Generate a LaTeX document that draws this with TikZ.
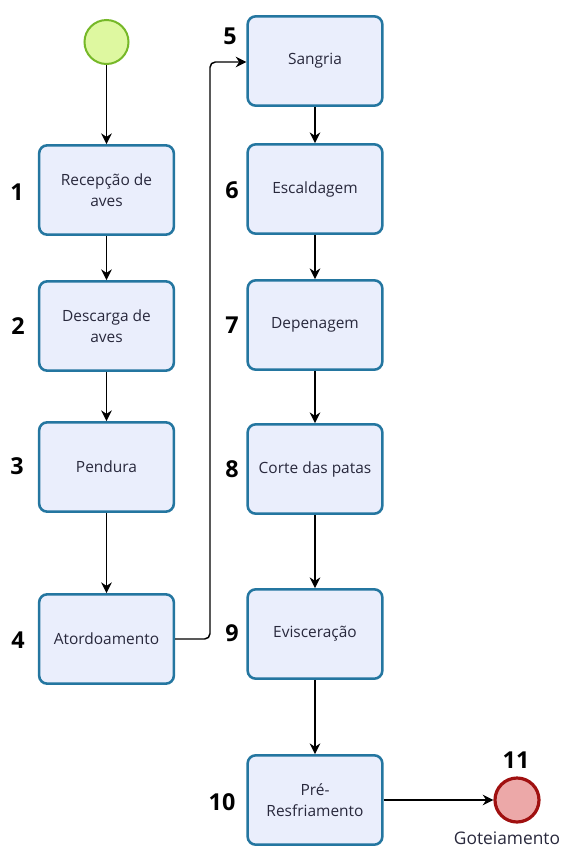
\documentclass[tikz,border=0pt]{standalone}
\usepackage{fontspec}
\setmainfont{Open Sans}
\usetikzlibrary{arrows.meta}
\definecolor{boxfill}{RGB}{234,238,252}
\definecolor{boxline}{RGB}{36,118,160}
\definecolor{startfill}{RGB}{222,248,160}
\definecolor{startline}{RGB}{118,184,40}
\definecolor{endfill}{RGB}{236,168,168}
\definecolor{endline}{RGB}{160,16,16}
\definecolor{txt}{RGB}{40,40,60}
\tikzset{
  task/.style={draw=boxline, fill=boxfill, line width=1.9pt, rounded corners=6pt,
    minimum width=101pt, minimum height=67pt, align=center, text=txt,
    font=\fontsize{11.6}{15.5}\selectfont, inner sep=2pt},
  startev/.style={circle, draw=startline, fill=startfill, line width=1.5pt, minimum size=33pt, inner sep=0pt},
  endev/.style={circle, draw=endline, fill=endfill, line width=2.4pt, minimum size=33pt, inner sep=0pt},
  stepnum/.style={font=\fontsize{17.5}{17.5}\selectfont\bfseries, text=black},
  flow/.style={draw=black, line width=1.1pt, -{Stealth[length=8pt,width=8pt]}},
  evlabel/.style={font=\fontsize{13}{14}\selectfont, text=txt, anchor=north, inner sep=0pt}
}
\begin{document}
\begin{tikzpicture}[x=0.75pt, y=-0.75pt]
\useasboundingbox (0,0) rectangle (564,854);
% events
\node[startev] (start) at (106.5,42) {};
\node[endev] (end) at (517,800) {};
% left column
\node[task] (t1) at (106.5,190) {Recepção de\\aves};
\node[task] (t2) at (106.5,326) {Descarga de\\aves};
\node[task] (t3) at (106.5,467) {Pendura};
\node[task] (t4) at (106.5,639) {Atordoamento};
% right column
\node[task] (t5) at (315,61) {Sangria};
\node[task] (t6) at (315,189) {Escaldagem};
\node[task] (t7) at (315,325) {Depenagem};
\node[task] (t8) at (315,469) {Corte das patas};
\node[task] (t9) at (315,634) {Evisceração};
\node[task] (t10) at (315,800) {Pré-\\Resfriamento};
% step numbers
\node[stepnum] (n1) at (17,192) {1};
\node[stepnum] (n2) at (18,326) {2};
\node[stepnum] (n3) at (17,466) {3};
\node[stepnum] (n4) at (18,640) {4};
\node[stepnum] (n5) at (230,36) {5};
\node[stepnum] (n6) at (232,190) {6};
\node[stepnum] (n7) at (232,325) {7};
\node[stepnum] (n8) at (232,469) {8};
\node[stepnum] (n9) at (232,633) {9};
\node[stepnum] (n10) at (222,802) {10};
\node[stepnum] (n11) at (516,760) {11};
\node[evlabel] (lend) at (507,832) {Goteiamento};
% flows
\draw[flow] (start) -- (t1);
\draw[flow] (t1) -- (t2);
\draw[flow] (t2) -- (t3);
\draw[flow] (t3) -- (t4);
\draw[flow, rounded corners=4pt] (t4.east |- 0,639) -- (210,639) -- (210,62) -- (t5.west |- 0,62);
\draw[flow] (t5) -- (t6);
\draw[flow] (t6) -- (t7);
\draw[flow] (t7) -- (t8);
\draw[flow] (t8) -- (t9);
\draw[flow] (t9) -- (t10);
\draw[flow] (t10) -- (end);
\end{tikzpicture}
\end{document}
